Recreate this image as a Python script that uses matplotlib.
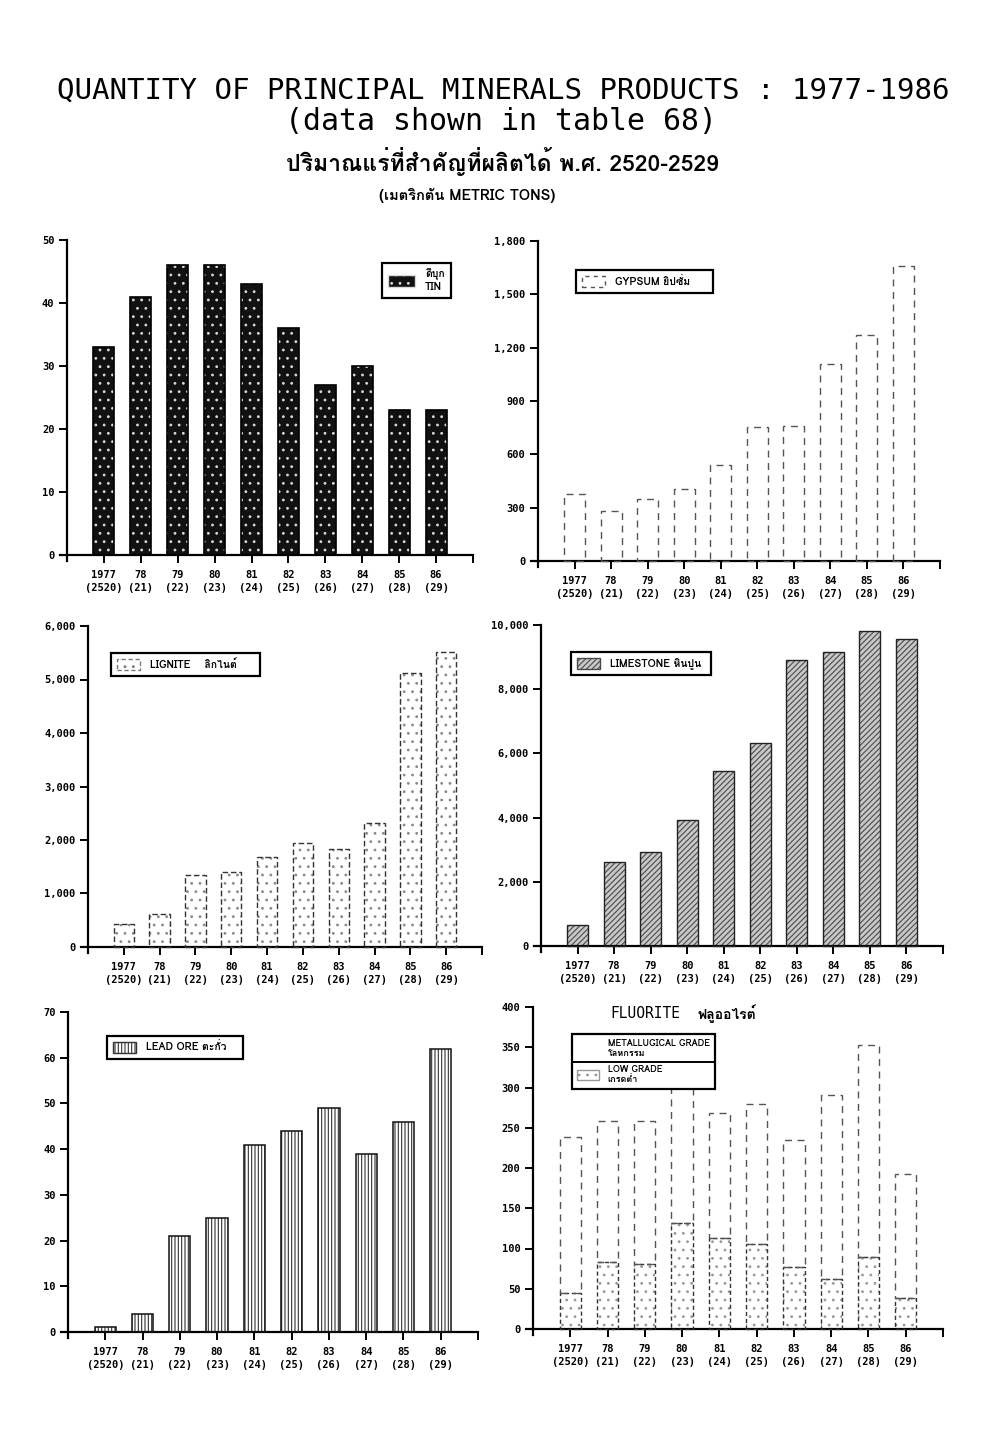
"""Quantity of principal minerals products 1977-1986 (six bar panels)."""

import numpy as np
import matplotlib
matplotlib.use('Agg')
import matplotlib.pyplot as plt
from matplotlib import font_manager
from matplotlib.ft2font import FT2Font
from matplotlib.patches import Patch
from matplotlib.lines import Line2D

# ---------------------------------------------------------------------------
# Data (thousand metric tons)
# ---------------------------------------------------------------------------
YEAR_LABELS = ['1977\n(2520)', '78\n(21)', '79\n(22)', '80\n(23)', '81\n(24)',
               '82\n(25)', '83\n(26)', '84\n(27)', '85\n(28)', '86\n(29)']
TIN = [33, 41, 46, 46, 43, 36, 27, 30, 23, 23]
GYPSUM = [379, 281, 351, 407, 539, 751, 758, 1107, 1270, 1661]
LIGNITE = [425, 612, 1355, 1404, 1673, 1935, 1834, 2321, 5128, 5510]
LIMESTONE = [654, 2617, 2928, 3925, 5452, 6324, 8910, 9159, 9813, 9564]
LEAD_ORE = [1, 4, 21, 25, 41, 44, 49, 39, 46, 62]
FLUORITE_LOW = [45, 83, 81, 132, 113, 105, 77, 62, 89, 38]
FLUORITE_MET = [193, 176, 177, 173, 155, 175, 158, 229, 264, 155]

W, H = 990, 1436
MONO = 'DejaVu Sans Mono'


def find_thai_family():
    """First installed family that has Thai glyphs."""
    seen = set()
    for f in font_manager.fontManager.ttflist:
        if f.name in seen:
            continue
        seen.add(f.name)
        try:
            cmap = FT2Font(f.fname).get_charmap()
        except Exception:
            continue
        if 0x0E1B in cmap and 0x0E34 in cmap:
            return f.name
    return 'DejaVu Sans'


THAI = [find_thai_family(), 'DejaVu Sans']

plt.rcParams.update({
    'hatch.linewidth': 0.8,
    'axes.linewidth': 1.6,
})

fig = plt.figure(figsize=(W / 100, H / 100), dpi=100)
fig.patch.set_facecolor('white')


def make_panel(px_axis, px_end, px_top, px_zero, ymax, step, fmt):
    """Axes placed from pixel positions of y-axis, x-end, top and zero line."""
    xlo, xhi = -0.2, 11
    ylo = -0.02 * ymax
    ux = (px_end - px_axis) / xhi
    uy = (px_zero - px_top) / ymax
    left = px_axis + xlo * ux
    bottom = px_zero - ylo * uy
    ax = fig.add_axes([left / W, 1 - bottom / H,
                       (px_end - left) / W, (bottom - px_top) / H])
    ax.set_xlim(xlo, xhi)
    ax.set_ylim(ylo, ymax)
    for s in ('top', 'right'):
        ax.spines[s].set_visible(False)
    ax.spines['left'].set_position(('data', 0))
    ax.spines['bottom'].set_position(('data', 0))
    yt = np.arange(0, ymax + step / 2, step)
    ax.set_yticks(yt)
    ax.set_yticklabels([fmt(v) for v in yt])
    ax.set_xticks(np.arange(1, 11))
    ax.set_xticklabels(YEAR_LABELS)
    ax.set_xticks([11], minor=True)
    ax.tick_params(axis='both', which='both', direction='out', length=6,
                   width=1.4, pad=3)
    ax.tick_params(axis='x', pad=5)
    for lab in ax.get_yticklabels():
        lab.set_fontfamily(MONO)
        lab.set_fontweight('bold')
        lab.set_fontsize(7.5)
    for lab in ax.get_xticklabels():
        lab.set_fontfamily(MONO)
        lab.set_fontweight('bold')
        lab.set_fontsize(7.5)
        lab.set_linespacing(1.3)
    return ax


def thousands(v):
    return f'{int(v):,}'


def plain(v):
    return f'{int(v)}'


def place_legend(ax, handles, labels, px_x, px_y, fs=7.5, hl=2.2):
    leg = ax.legend(handles, labels, loc='upper left',
                    bbox_to_anchor=(px_x / W, 1 - px_y / H),
                    bbox_transform=fig.transFigure, borderaxespad=0,
                    fancybox=False, framealpha=1, edgecolor='black',
                    handlelength=hl, handleheight=1.3, borderpad=0.55,
                    labelspacing=0.7, handletextpad=1.0,
                    prop={'family': THAI, 'weight': 'bold', 'size': fs})
    leg.get_frame().set_linewidth(1.6)
    leg.set_zorder(5)
    return leg


x = np.arange(1, 11)
BW = 0.57

# --- Tin ------------------------------------------------------------------
ax = make_panel(67, 473, 240, 555, 50, 10, plain)
ax.bar(x, TIN, BW, color='#111111', edgecolor='#d8d8d8', hatch='..',
       linewidth=0, zorder=2)
ax.bar(x, TIN, BW, fill=False, edgecolor='black', linewidth=1.2, zorder=3)
h = Patch(facecolor='#111111', edgecolor='#d8d8d8', hatch='..')
place_legend(ax, [h], ['ดีบุก\nTIN'], 382, 263, hl=2.6)

# --- Gypsum ---------------------------------------------------------------
ax = make_panel(538, 940, 241, 561, 1800, 300, thousands)
ax.bar(x, GYPSUM, BW, fill=False, edgecolor='#555555', linewidth=1.0,
       linestyle=(0, (5, 4)), zorder=3)
h = Patch(facecolor='white', edgecolor='#555555', linestyle=(0, (3, 3)))
place_legend(ax, [h], ['GYPSUM ยิปซั่ม     '], 576, 270)

# --- Lignite --------------------------------------------------------------
ax = make_panel(88, 482, 626, 947, 6000, 1000, thousands)
ax.bar(x, LIGNITE, BW, color='white', edgecolor='#8a8a8a', hatch='..',
       linewidth=0, zorder=2)
ax.bar(x, LIGNITE, BW, fill=False, edgecolor='#333333', linewidth=1.0,
       linestyle=(0, (4, 2)), zorder=3)
h = Patch(facecolor='white', edgecolor='#777777', hatch='..',
          linestyle=(0, (3, 2)))
place_legend(ax, [h], ['LIGNITE    ลิกไนต์     '], 111, 653)

# --- Limestone ------------------------------------------------------------
ax = make_panel(541, 943, 625, 946, 10000, 2000, thousands)
ax.bar(x, LIMESTONE, BW, color='#c8c8c8', edgecolor='#4a4a4a',
       hatch='//////', linewidth=0, zorder=2)
ax.bar(x, LIMESTONE, BW, fill=False, edgecolor='#222222', linewidth=1.0,
       zorder=3)
h = Patch(facecolor='#c8c8c8', edgecolor='#4a4a4a', hatch='//////')
place_legend(ax, [h], ['LIMESTONE หินปูน '], 571, 652)

# --- Lead ore -------------------------------------------------------------
ax = make_panel(68, 478, 1012, 1332, 70, 10, plain)
ax.bar(x, LEAD_ORE, BW, color='white', edgecolor='#333333', hatch='|||||',
       linewidth=0, zorder=2)
ax.bar(x, LEAD_ORE, BW, fill=False, edgecolor='#111111', linewidth=1.1,
       zorder=3)
h = Patch(facecolor='white', edgecolor='#333333', hatch='|||||')
place_legend(ax, [h], ['LEAD ORE ตะกั่ว   '], 107, 1036)

# --- Fluorite (stacked) ---------------------------------------------------
ax = make_panel(533, 943, 1007, 1329, 400, 50, plain)
ax.bar(x, FLUORITE_LOW, BW, color='white', edgecolor='#999999', hatch='..',
       linewidth=0, zorder=2)
ax.bar(x, FLUORITE_LOW, BW, fill=False, edgecolor='#333333', linewidth=1.0,
       linestyle=(0, (3, 2)), zorder=3)
ax.bar(x, FLUORITE_MET, BW, bottom=FLUORITE_LOW, fill=False,
       edgecolor='#555555', linewidth=1.0, linestyle=(0, (5, 4)), zorder=3)
h_met = Patch(facecolor='white', edgecolor='white')
h_low = Patch(facecolor='white', edgecolor='#999999', hatch='..')
leg_f = place_legend(ax, [h_met, h_low],
                     ['METALLUGICAL GRADE\nโลหกรรม', 'LOW GRADE\nเกรดต่ำ'],
                     572, 1034, fs=6.5, hl=2.4)
fig.text(610 / W, 1 - 1014 / H, 'FLUORITE', family=MONO, fontsize=10.5,
         ha='left', va='center')
fig.text(698 / W, 1 - 1014 / H, 'ฟลูออไรต์', family=THAI, fontsize=10,
         fontweight='bold', ha='left', va='center')

# ---------------------------------------------------------------------------
# Titles
# ---------------------------------------------------------------------------
fig.text(57 / W, 1 - 91 / H,
         'QUANTITY OF PRINCIPAL MINERALS PRODUCTS : 1977-1986',
         family=MONO, fontsize=21, ha='left', va='center')
fig.text(501 / W, 1 - 121 / H, '(data shown in table 68)',
         family=MONO, fontsize=21.5, ha='center', va='center')
fig.text(502 / W, 1 - 162 / H, 'ปริมาณแร่ที่สำคัญที่ผลิตได้ พ.ศ. 2520-2529',
         family=THAI, fontsize=16.5, fontweight='bold', ha='center',
         va='center')
fig.text(467 / W, 1 - 195 / H, '(เมตริกตัน METRIC TONS)',
         family=THAI, fontsize=10.5, fontweight='bold', ha='center',
         va='center')

# separator between the two fluorite legend entries
fig.canvas.draw()
bb = leg_f.get_window_extent().transformed(fig.transFigure.inverted())
texts = leg_f.get_texts()
t0 = texts[0].get_window_extent().transformed(fig.transFigure.inverted())
t1 = texts[1].get_window_extent().transformed(fig.transFigure.inverted())
ysep = (t0.y0 + t1.y1) / 2
fig.add_artist(Line2D([bb.x0, bb.x1], [ysep, ysep], color='black',
                      linewidth=1.4, zorder=6))

fig.savefig('out.png', dpi=100, facecolor='white')
